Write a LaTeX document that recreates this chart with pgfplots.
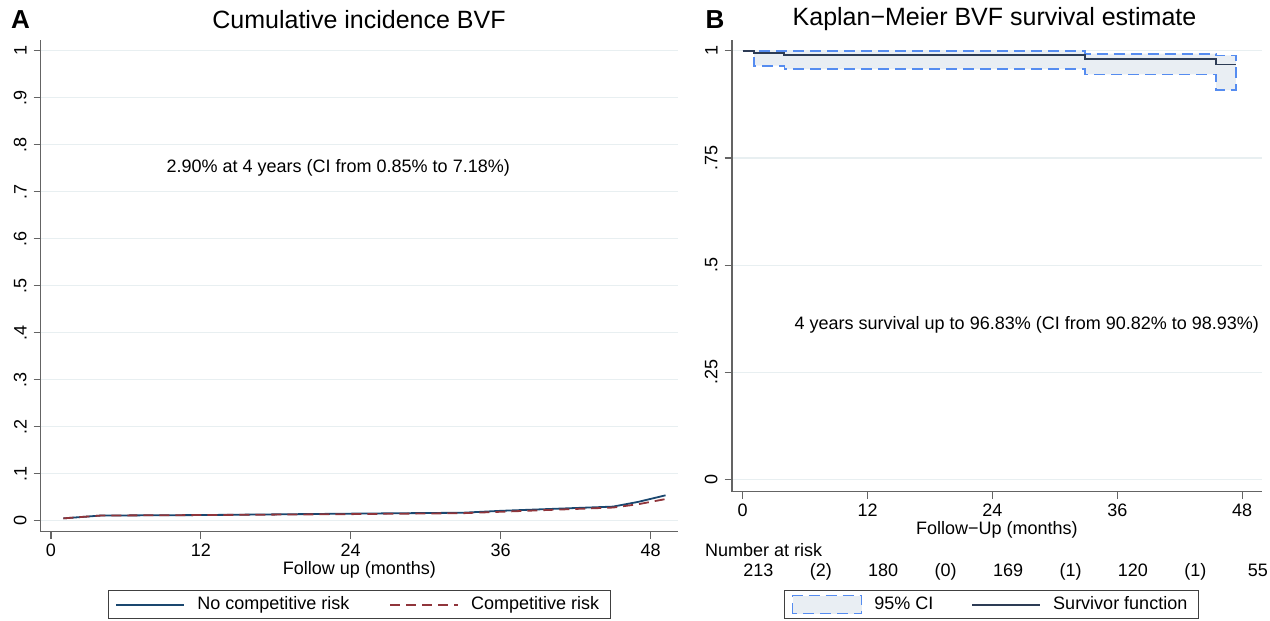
\documentclass[border=0pt]{standalone}
\usepackage{fontspec}
\setmainfont{Liberation Sans}
\usepackage{pgfplots}
\pgfplotsset{compat=1.18}
\definecolor{axisgray}{RGB}{100,100,100}
\definecolor{gridc}{RGB}{232,239,241}
\definecolor{ncr}{RGB}{26,71,111}
\definecolor{crred}{RGB}{144,53,59}
\definecolor{ciblue}{RGB}{85,140,240}
\definecolor{cifill}{RGB}{233,238,243}
\definecolor{survc}{RGB}{45,60,85}

\pgfplotsset{
  statastyle/.style={
    scale only axis,
    anchor=south west,
    axis x line*=bottom, axis y line*=left,
    axis line style={draw=axisgray, line width=0.8pt, -},
    tick align=outside, major tick length=3.5pt,
    tick style={draw=axisgray, line width=0.6pt},
    ymajorgrids, grid style={draw=gridc, line width=0.6pt},
    yticklabel style={rotate=90, anchor=south},
    xticklabel style={yshift=1pt},
    tick label style={font=\fontsize{9}{10}\selectfont},
    label style={font=\fontsize{9}{10}\selectfont},
    xtick={0,12,24,36,48}, xticklabels={0,12,24,36,48},
    clip=false,
    legend columns=2,
    legend image code/.code={\draw[##1, line width=0.9pt] (0pt,0pt) -- (34pt,0pt);},
  },
  statalegend/.style={
    draw=black!75, line width=0.6pt,
    font=\fontsize{9}{10}\selectfont, inner xsep=3.5pt, inner ysep=1pt,
    cells={anchor=west},
    /tikz/every odd column/.append style={column sep=4pt},
    /tikz/every even column/.append style={column sep=#1},
  },
  cilegend/.style={
    legend image code/.code={\draw[##1] (0pt,-4.5pt) rectangle (34.5pt,4.5pt);},
  },
}

\begin{document}
\begin{tikzpicture}[x=1pt,y=1pt]
\useasboundingbox (0,0) rectangle (635,310.5);

% ---- A: cumulative incidence
\begin{axis}[statastyle,
  at={(20.35pt,44.65pt)}, width=318.65pt, height=245.85pt,
  xmin=-0.82, xmax=50.2, ymin=-0.0234, ymax=1.023,
  ytick={0,0.1,0.2,0.3,0.4,0.5,0.6,0.7,0.8,0.9,1},
  yticklabels={0,.1,.2,.3,.4,.5,.6,.7,.8,.9,1},
  xlabel={Follow up (months)},
  xlabel style={anchor=center, at={(axis description cs:0.5,-0.078)}},
  legend style={statalegend=18pt, at={(0.5,-0.1186)}, anchor=north},
]
\addplot[ncr, line width=0.9pt] coordinates {
  (1,0.005) (4,0.011) (12,0.012) (24,0.015) (33,0.017) (36,0.021)
  (41,0.026) (45,0.030) (47,0.040) (49.2,0.054)};
\addlegendentry{No competitive risk}
\addplot[crred, line width=0.9pt, dash pattern=on 5pt off 3pt] coordinates {
  (1,0.005) (4,0.011) (12,0.012) (24,0.014) (33,0.016) (36,0.019)
  (41,0.024) (45,0.028) (47,0.035) (49.2,0.046)};
\addlegendentry{Competitive risk}
\node[font=\fontsize{9}{10}\selectfont] at (axis cs:23,0.75)
  {2.90\% at 4 years (CI from 0.85\% to 7.18\%)};
\end{axis}

% ---- B: Kaplan-Meier
\begin{axis}[statastyle,
  at={(365.85pt,64.65pt)}, width=265.15pt, height=225.85pt,
  xmin=-1.06, xmax=49.9, ymin=-0.028, ymax=1.025,
  ytick={0,0.25,0.5,0.75,1},
  yticklabels={0,.25,.5,.75,1},
  xlabel={Follow−Up (months)},
  xlabel style={anchor=center, at={(axis description cs:0.5,-0.0847)}},
  legend style={statalegend=17pt, at={(0.49,-0.2176)}, anchor=north},
]
\addplot[fill=cifill, draw=ciblue, line width=0.8pt, dash pattern=on 5.5pt off 3pt, cilegend]
  coordinates {
  (0,1) (1.1,1) (1.1,0.999) (32.9,0.999) (32.9,0.993) (45.5,0.993)
  (45.5,0.989) (47.4,0.989) (47.4,0.908) (45.5,0.908) (45.5,0.945)
  (32.9,0.945) (32.9,0.957) (4,0.957) (4,0.965) (1.1,0.965) (1.1,1) (0,1)} -- cycle;
\addlegendentry{95\% CI}
\addplot[const plot, survc, line width=0.9pt] coordinates {
  (0,1) (1.1,0.995) (4,0.990) (32.9,0.981) (45.5,0.968) (47.4,0.968)};
\addlegendentry{Survivor function}
\node[font=\fontsize{9}{10}\selectfont] at (axis cs:27.3,0.361)
  {4 years survival up to 96.83\% (CI from 90.82\% to 98.93\%)};
\node[font=\fontsize{9}{10}\selectfont, anchor=west] at (axis cs:-4.3,-0.163) {Number at risk};
\begin{scope}[every node/.style={font=\fontsize{9}{10}\selectfont, anchor=base}]
\node at (axis cs:1.5,-0.2262) {213};
\node at (axis cs:7.5,-0.2262) {(2)};
\node at (axis cs:13.5,-0.2262) {180};
\node at (axis cs:19.5,-0.2262) {(0)};
\node at (axis cs:25.5,-0.2262) {169};
\node at (axis cs:31.5,-0.2262) {(1)};
\node at (axis cs:37.5,-0.2262) {120};
\node at (axis cs:43.5,-0.2262) {(1)};
\node at (axis cs:49.5,-0.2262) {55};
\end{scope}
\end{axis}

% ---- titles
\node[font=\fontsize{12.5}{14}\selectfont] at (179.5,300.5) {Cumulative incidence BVF};
\node[font=\fontsize{12.5}{14}\selectfont] at (497.25,301) {Kaplan−Meier BVF survival estimate};
\node[font=\fontsize{13}{14}\selectfont\bfseries] at (10.25,300.5) {A};
\node[font=\fontsize{13}{14}\selectfont\bfseries] at (357.5,300.5) {B};
\end{tikzpicture}
\end{document}
